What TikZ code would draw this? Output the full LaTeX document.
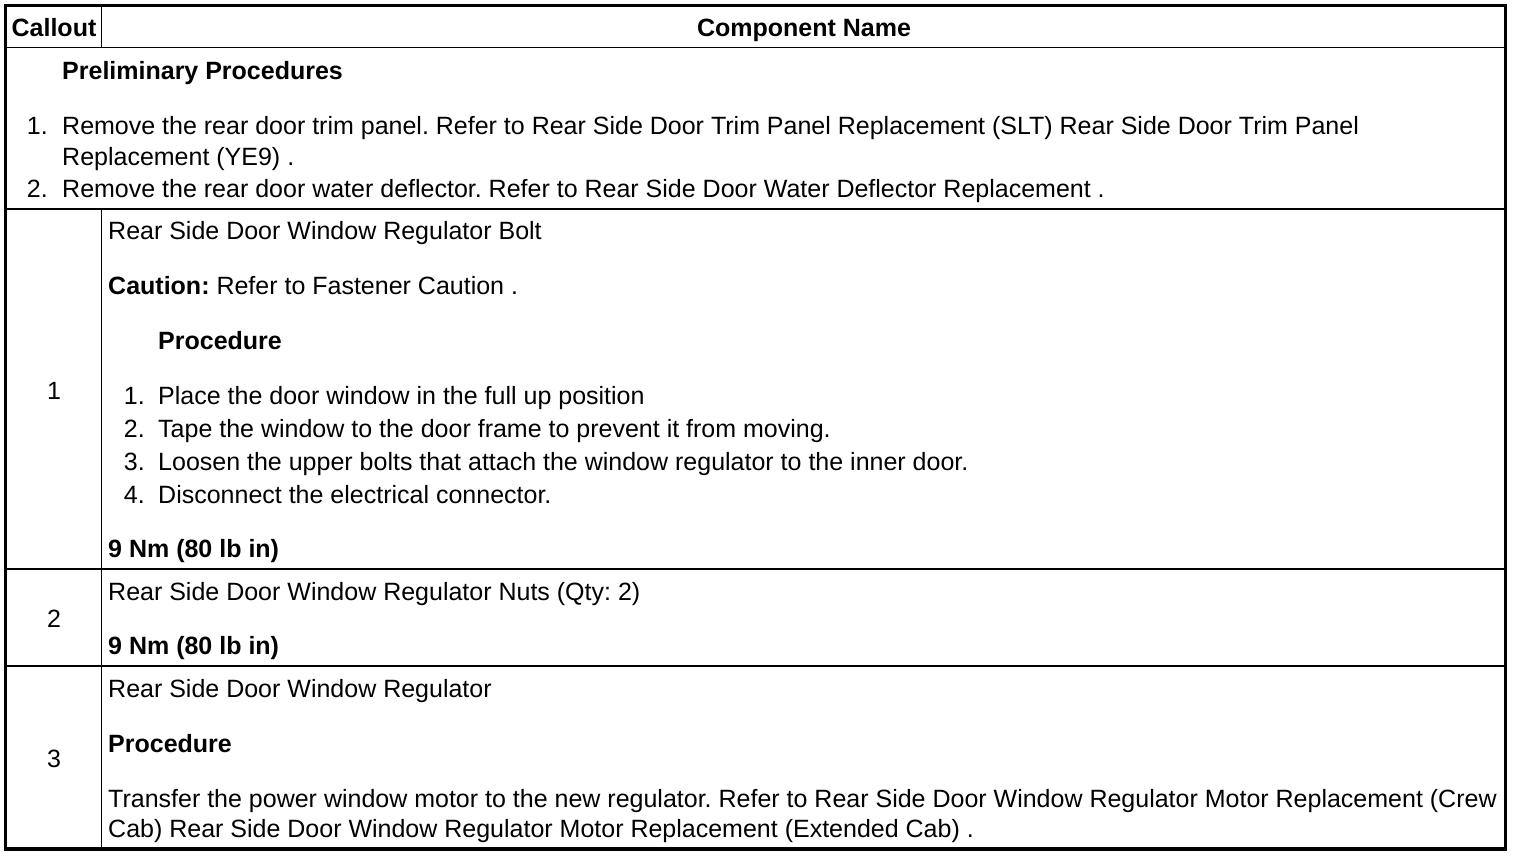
\documentclass[tikz,border=0pt]{standalone}
\usepackage{fontspec}
\setmainfont{Liberation Sans}
\frenchspacing
\begin{document}
\begin{tikzpicture}[x=1pt,y=-1pt,
  txt/.style={anchor=base west,inner sep=0pt,font=\fontsize{25}{30}\selectfont},
  num/.style={anchor=base east,inner sep=0pt,font=\fontsize{25}{30}\selectfont},
  cnum/.style={anchor=base,inner sep=0pt,font=\fontsize{25}{30}\selectfont},
  outer/.style={line width=3.5pt},
  rule/.style={line width=1.6pt}]
\useasboundingbox (0,0) rectangle (1520,856);
\fill[white] (0,0) rectangle (1520,856);
% table rules
\draw[outer] (5.5,5.5) rectangle (1505.5,849);
\draw[rule] (5.5,47.5) -- (1505.5,47.5);
\draw[rule] (5.5,209) -- (1505.5,209);
\draw[rule] (5.5,569) -- (1505.5,569);
\draw[rule] (5.5,666) -- (1505.5,666);
\draw[rule] (101.5,5.5) -- (101.5,47.5);
\draw[rule] (101.5,209) -- (101.5,849);
% header
\node[cnum,font=\fontsize{25}{30}\selectfont\bfseries] (hcall) at (54,37) {Callout};
\node[cnum,font=\fontsize{25}{30}\selectfont\bfseries] (hname) at (804,37) {Component Name};
% preliminary
\node[txt,font=\fontsize{25}{30}\selectfont\bfseries] (prel) at (62,80) {Preliminary Procedures};
\node[num] (p1n) at (48,135) {1.};
\node[txt] (p1a) at (62,135) {Remove the rear door trim panel. Refer to Rear Side Door Trim Panel Replacement (SLT) Rear Side Door Trim Panel};
\node[txt] (p1b) at (62,165) {Replacement (YE9) .};
\node[num] (p2n) at (48,197) {2.};
\node[txt] (p2a) at (62,197) {Remove the rear door water deflector. Refer to Rear Side Door Water Deflector Replacement .};
% row 1
\node[cnum] (c1) at (54,399) {1};
\node[txt] (r1a) at (108,239) {Rear Side Door Window Regulator Bolt};
\node[txt] (r1b) at (108,294) {\textbf{Caution:} Refer to Fastener Caution .};
\node[txt,font=\fontsize{25}{30}\selectfont\bfseries] (r1c) at (158,349) {Procedure};
\node[num] (s1n) at (145,404) {1.};
\node[txt] (s1) at (158,404) {Place the door window in the full up position};
\node[num] (s2n) at (145,437) {2.};
\node[txt] (s2) at (158,437) {Tape the window to the door frame to prevent it from moving.};
\node[num] (s3n) at (145,470) {3.};
\node[txt] (s3) at (158,470) {Loosen the upper bolts that attach the window regulator to the inner door.};
\node[num] (s4n) at (145,503) {4.};
\node[txt] (s4) at (158,503) {Disconnect the electrical connector.};
\node[txt,font=\fontsize{25}{30}\selectfont\bfseries] (r1t) at (108,557) {9 Nm (80 lb in)};
% row 2
\node[cnum] (c2) at (54,627) {2};
\node[txt] (r2a) at (108,600) {Rear Side Door Window Regulator Nuts (Qty: 2)};
\node[txt,font=\fontsize{25}{30}\selectfont\bfseries] (r2t) at (108,654) {9 Nm (80 lb in)};
% row 3
\node[cnum] (c3) at (54,767) {3};
\node[txt] (r3a) at (108,697) {Rear Side Door Window Regulator};
\node[txt,font=\fontsize{25}{30}\selectfont\bfseries] (r3b) at (108,752) {Procedure};
\node[txt] (r3c) at (108,807) {Transfer the power window motor to the new regulator. Refer to Rear Side Door Window Regulator Motor Replacement (Crew};
\node[txt] (r3d) at (108,837) {Cab) Rear Side Door Window Regulator Motor Replacement (Extended Cab) .};
\end{tikzpicture}
\end{document}
